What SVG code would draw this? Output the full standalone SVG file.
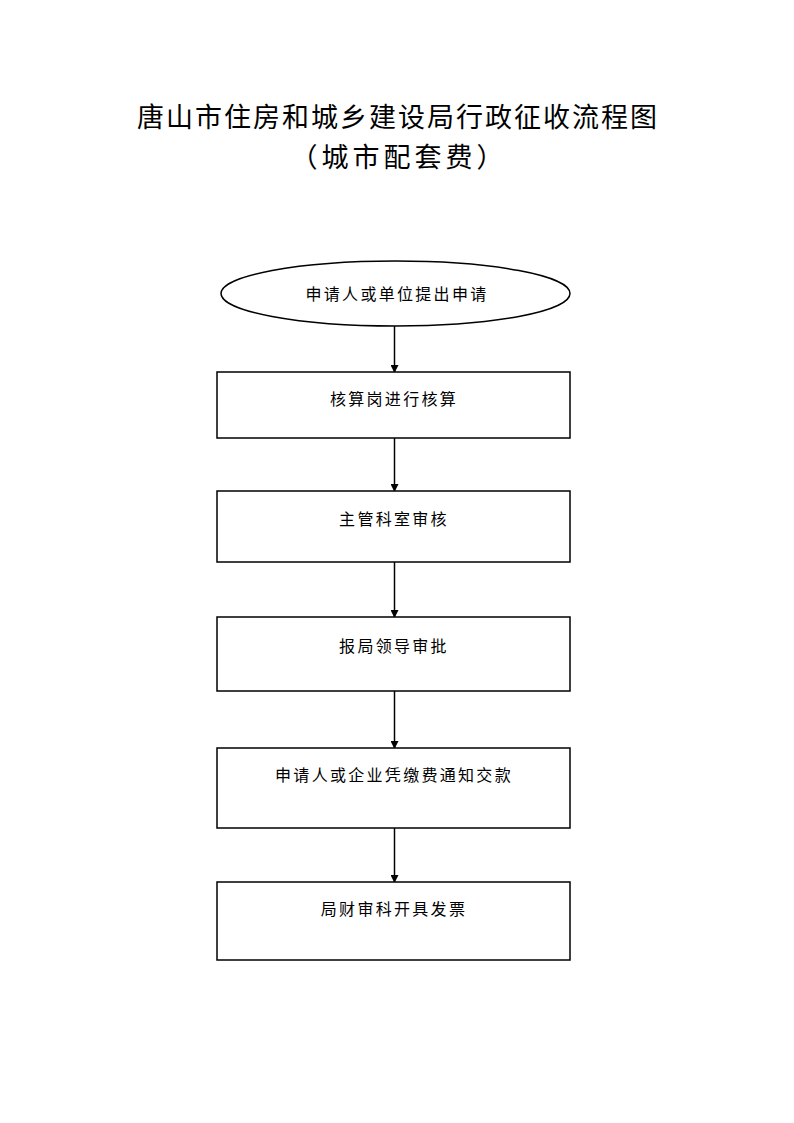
<svg xmlns="http://www.w3.org/2000/svg" width="794" height="1123" viewBox="0 0 794 1123">
<style>
.t{font-family:"Liberation Sans","Noto Sans CJK SC",sans-serif;fill:#000;text-anchor:middle}
.title{font-size:27px;letter-spacing:2px}
.sub{font-size:27px;letter-spacing:4px}
.lbl{font-size:16px;letter-spacing:2.3px}
.shape{fill:#fff;stroke:#000;stroke-width:1.5}
.conn{stroke:#000;stroke-width:1.5;fill:none;marker-end:url(#ah)}
</style>
<defs>
<marker id="ah" markerWidth="8" markerHeight="8" refX="7" refY="4" orient="auto" markerUnits="userSpaceOnUse">
<path d="M0,0 L8,4 L0,8 Z" fill="#000"/>
</marker>
</defs>
<rect width="794" height="1123" fill="#fff"/>
<text class="t title" x="398" y="127">唐山市住房和城乡建设局行政征收流程图</text>
<text class="t sub" x="399" y="167">（城市配套费）</text>
<g id="connectors">
<line class="conn" x1="394.5" y1="326" x2="394.5" y2="372"/>
<line class="conn" x1="394.5" y1="438" x2="394.5" y2="491"/>
<line class="conn" x1="394.5" y1="562" x2="394.5" y2="617"/>
<line class="conn" x1="394.5" y1="691" x2="394.5" y2="748"/>
<line class="conn" x1="394.5" y1="828" x2="394.5" y2="882"/>
</g>
<g id="n1">
<ellipse class="shape" cx="395.5" cy="293.5" rx="174.5" ry="32.5"/>
<text class="t lbl" x="397" y="300">申请人或单位提出申请</text>
</g>
<g id="n2">
<rect class="shape" x="217" y="372" width="353" height="66"/>
<text class="t lbl" x="394" y="405">核算岗进行核算</text>
</g>
<g id="n3">
<rect class="shape" x="217" y="491" width="353" height="71"/>
<text class="t lbl" x="394" y="525">主管科室审核</text>
</g>
<g id="n4">
<rect class="shape" x="217" y="617" width="353" height="74"/>
<text class="t lbl" x="394" y="652">报局领导审批</text>
</g>
<g id="n5">
<rect class="shape" x="217" y="748" width="353" height="80"/>
<text class="t lbl" x="394" y="781">申请人或企业凭缴费通知交款</text>
</g>
<g id="n6">
<rect class="shape" x="217" y="882" width="353" height="78"/>
<text class="t lbl" x="394" y="915">局财审科开具发票</text>
</g>
</svg>
